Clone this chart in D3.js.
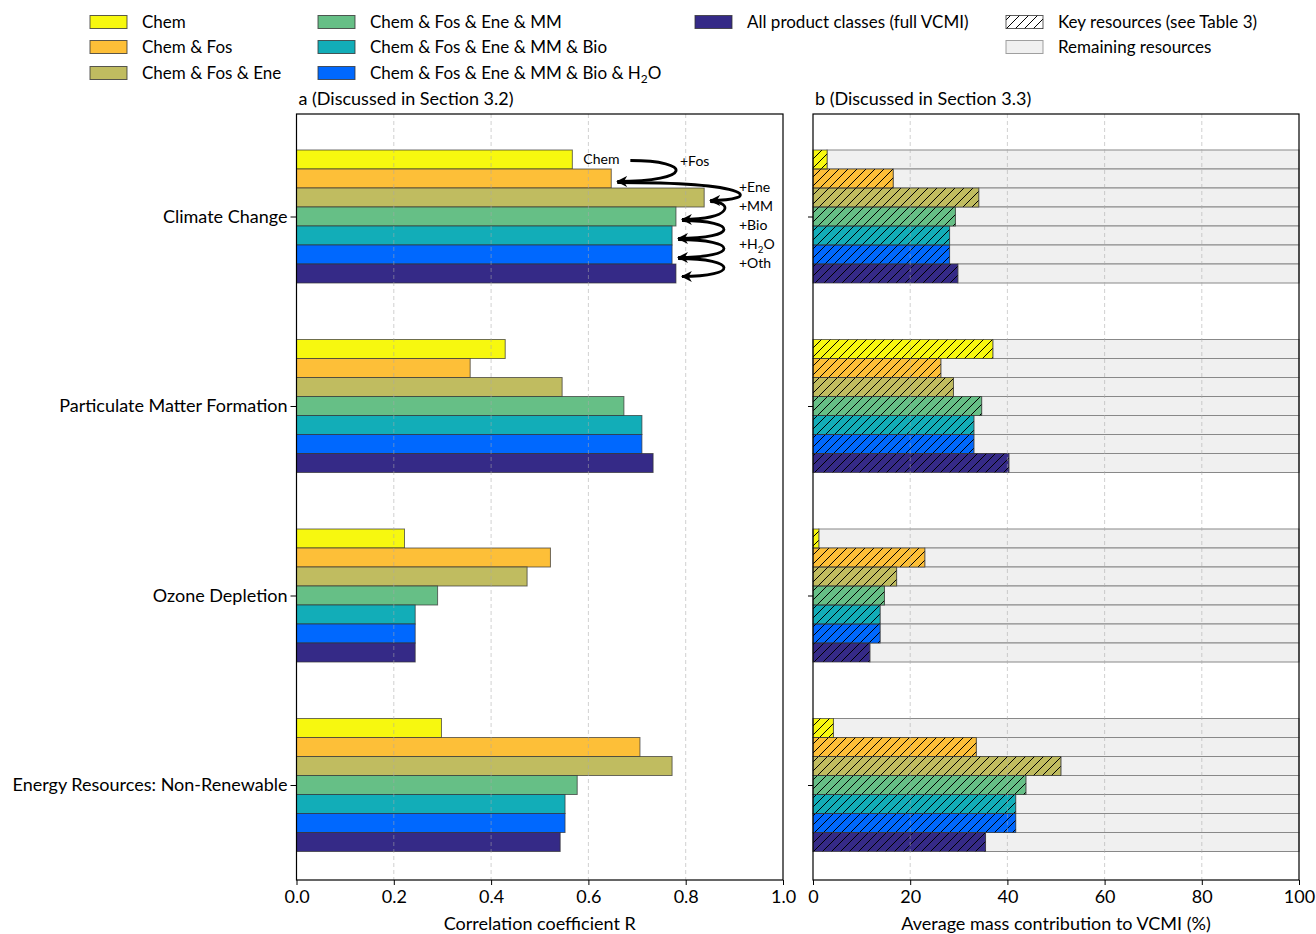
<!DOCTYPE html>
<html>
<head>
<meta charset="utf-8">
<script src="https://cdn.jsdelivr.net/npm/d3@7"></script>
<style>
  body { margin: 0; background: #fff; }
  text { font-family: Lato, "Open Sans", sans-serif; fill: #000; }
</style>
</head>
<body>
<div id="chart"></div>
<script>
const categories = ["Climate Change", "Particulate Matter Formation", "Ozone Depletion", "Energy Resources: Non-Renewable"];
const classes = ["Chem", "Chem & Fos", "Chem & Fos & Ene", "Chem & Fos & Ene & MM", "Chem & Fos & Ene & MM & Bio", "Chem & Fos & Ene & MM & Bio & H2O", "All product classes (full VCMI)"];
const colors = ["#f7f80f", "#fdbf38", "#c0bc60", "#66bf86", "#12adb8", "#0068fe", "#352a87"];

// correlation coefficient R, one array per impact category (classes in order)
const rClimate = [0.567, 0.647, 0.838, 0.780, 0.772, 0.772, 0.780];
const rPM      = [0.429, 0.357, 0.546, 0.673, 0.710, 0.710, 0.733];
const rOzone   = [0.222, 0.522, 0.474, 0.290, 0.244, 0.244, 0.244];
const rEnergy  = [0.298, 0.706, 0.772, 0.577, 0.552, 0.552, 0.542];

// average mass contribution of key resources (%)
const mClimate = [2.9, 16.5, 34.1, 29.3, 28.1, 28.1, 29.8];
const mPM      = [37.0, 26.3, 28.9, 34.7, 33.1, 33.1, 40.3];
const mOzone   = [1.2, 23.0, 17.2, 14.7, 13.8, 13.8, 11.7];
const mEnergy  = [4.2, 33.6, 51.0, 43.8, 41.7, 41.7, 35.5];

const stepLabels = ["+Fos", "+Ene", "+MM", "+Bio", "+H2O", "+Oth"];
const xTicksA = [0, 0.2, 0.4, 0.6, 0.8, 1.0];
const xTicksB = [0, 20, 40, 60, 80, 100];

const rByCat = [rClimate, rPM, rOzone, rEnergy];
const mByCat = [mClimate, mPM, mOzone, mEnergy];

const W = 1316, H = 934;
const plotTop = 114, plotBottom = 880;
const barH = 19;

const svg = d3.select("#chart").append("svg")
    .attr("width", W).attr("height", H);

const defs = svg.append("defs");
defs.append("pattern")
    .attr("id", "hatch")
    .attr("patternUnits", "userSpaceOnUse")
    .attr("width", 9).attr("height", 9)
    .append("path")
    .attr("d", "M0,9 L9,0 M-2,2 L2,-2 M7,11 L11,7")
    .attr("stroke", "#000").attr("stroke-width", 1);
defs.append("marker")
    .attr("id", "arrow")
    .attr("markerUnits", "userSpaceOnUse")
    .attr("viewBox", "0 0 10 10")
    .attr("refX", 9).attr("refY", 5)
    .attr("markerWidth", 11).attr("markerHeight", 11)
    .attr("orient", "auto")
    .append("path")
    .attr("d", "M0,0 L10,5 L0,10 L3,5 Z")
    .attr("fill", "#000");

const xA = d3.scaleLinear().domain([0, 1]).range([296.5, 783]);
const xB = d3.scaleLinear().domain([0, 100]).range([813, 1299]);
const y = d3.scalePoint().domain(categories).range([216.5, 785]);
const barTop = (c, j) => y(c) - 3.5 * barH + j * barH;

// helper: text with H2O subscript
function labelText(sel, s) {
    if (s.includes("H2O")) {
        const parts = s.split("H2O");
        sel.append("tspan").text(parts[0] + "H");
        sel.append("tspan").text("2").attr("font-size", "0.7em").attr("dy", 4);
        sel.append("tspan").text("O" + parts[1]).attr("dy", -4);
    } else {
        sel.text(s);
    }
}

// ---------- panel a ----------
const gA = svg.append("g");
categories.forEach((c, ci) => {
    gA.selectAll(null)
        .data(rByCat[ci])
        .join("rect")
        .attr("x", xA(0))
        .attr("y", (d, j) => barTop(c, j))
        .attr("width", d => xA(d) - xA(0))
        .attr("height", barH)
        .attr("fill", (d, j) => colors[j])
        .attr("stroke", "#333")
        .attr("stroke-opacity", 0.7)
        .attr("stroke-width", 1);
});

gA.selectAll(".grid")
    .data(xTicksA.slice(1, -1))
    .join("line")
    .attr("x1", d => xA(d)).attr("x2", d => xA(d))
    .attr("y1", plotTop).attr("y2", plotBottom)
    .attr("stroke", "#aaa").attr("stroke-opacity", 0.6)
    .attr("stroke-dasharray", "4,3").attr("stroke-width", 0.9);

gA.append("rect")
    .attr("x", xA(0)).attr("y", plotTop)
    .attr("width", xA(1) - xA(0)).attr("height", plotBottom - plotTop)
    .attr("fill", "none").attr("stroke", "#000").attr("stroke-width", 1.2);

gA.append("g")
    .attr("transform", `translate(0,${plotBottom})`)
    .call(d3.axisBottom(xA).tickValues(xTicksA).tickFormat(d3.format(".1f")).tickSize(5).tickPadding(5))
    .call(g => g.select(".domain").remove())
    .call(g => g.selectAll("text").attr("font-size", 18).attr("font-family", "Lato"));

gA.append("g")
    .attr("transform", `translate(${xA(0)},0)`)
    .call(d3.axisLeft(y).tickSize(6).tickPadding(3))
    .call(g => g.select(".domain").remove())
    .call(g => g.selectAll("text").attr("font-size", 18).attr("font-family", "Lato"));

gA.append("text")
    .attr("x", (xA(0) + xA(1)) / 2).attr("y", 930)
    .attr("text-anchor", "middle").attr("font-size", 18)
    .text("Correlation coefficient R");

gA.append("text")
    .attr("x", xA(0) + 2).attr("y", 105)
    .attr("font-size", 18)
    .text("a (Discussed in Section 3.2)");

// step annotations on climate change
const cc = categories[0];
const ccR = rByCat[0];
const mid = j => barTop(cc, j) + barH / 2;
gA.append("text")
    .attr("x", xA(ccR[0]) + 11).attr("y", mid(0) + 4)
    .attr("font-size", 14).text("Chem");

stepLabels.forEach((s, k) => {
    const i = k + 1;
    const x0 = i === 1 ? xA(ccR[0]) + 58 : xA(ccR[i - 1]) + 6;
    const y0 = i === 1 ? mid(0) + 1 : mid(i - 1) + 4;
    const x1 = xA(ccR[i]) + 6;
    const y1 = mid(i) + 3;
    const xMax = i === 1 ? 676 : (i === 2 ? 736 : 724);
    const T = (xMax - (x0 + x1) / 8) / 0.75;
    gA.append("path")
        .attr("d", `M${x0},${y0} C${T},${y0} ${T},${y1} ${x1},${y1}`)
        .attr("fill", "none").attr("stroke", "#000")
        .attr("stroke-width", 2.8)
        .attr("marker-end", "url(#arrow)");
    const t = gA.append("text")
        .attr("x", i === 1 ? 680 : 739)
        .attr("y", i === 1 ? mid(0) + 6 : barTop(cc, i) + 4)
        .attr("font-size", 14);
    labelText(t, s);
});

// ---------- panel b ----------
const gB = svg.append("g");
categories.forEach((c, ci) => {
    const vals = mByCat[ci];
    gB.selectAll(null)
        .data(vals)
        .join("rect")
        .attr("x", d => xB(d))
        .attr("y", (d, j) => barTop(c, j))
        .attr("width", d => xB(100) - xB(d))
        .attr("height", barH)
        .attr("fill", "#f0f0f0")
        .attr("stroke", "#888").attr("stroke-width", 1);
    gB.selectAll(null)
        .data(vals)
        .join("rect")
        .attr("x", xB(0))
        .attr("y", (d, j) => barTop(c, j))
        .attr("width", d => xB(d) - xB(0))
        .attr("height", barH)
        .attr("fill", (d, j) => colors[j]);
    gB.selectAll(null)
        .data(vals)
        .join("rect")
        .attr("x", xB(0))
        .attr("y", (d, j) => barTop(c, j))
        .attr("width", d => xB(d) - xB(0))
        .attr("height", barH)
        .attr("fill", "url(#hatch)")
        .attr("stroke", "#333").attr("stroke-opacity", 0.7).attr("stroke-width", 1);
});

gB.selectAll(".grid")
    .data(xTicksB.slice(1, -1))
    .join("line")
    .attr("x1", d => xB(d)).attr("x2", d => xB(d))
    .attr("y1", plotTop).attr("y2", plotBottom)
    .attr("stroke", "#aaa").attr("stroke-opacity", 0.6)
    .attr("stroke-dasharray", "4,3").attr("stroke-width", 0.9);

gB.append("rect")
    .attr("x", xB(0)).attr("y", plotTop)
    .attr("width", xB(100) - xB(0)).attr("height", plotBottom - plotTop)
    .attr("fill", "none").attr("stroke", "#000").attr("stroke-width", 1.2);

gB.append("g")
    .attr("transform", `translate(0,${plotBottom})`)
    .call(d3.axisBottom(xB).tickValues(xTicksB).tickSize(5).tickPadding(5))
    .call(g => g.select(".domain").remove())
    .call(g => g.selectAll("text").attr("font-size", 18).attr("font-family", "Lato"));

gB.append("g")
    .attr("transform", `translate(${xB(0)},0)`)
    .call(d3.axisLeft(y).tickSize(5).tickFormat(""))
    .call(g => g.select(".domain").remove());

gB.append("text")
    .attr("x", (xB(0) + xB(100)) / 2).attr("y", 930)
    .attr("text-anchor", "middle").attr("font-size", 18)
    .text("Average mass contribution to VCMI (%)");

gB.append("text")
    .attr("x", xB(0) + 2).attr("y", 105)
    .attr("font-size", 18)
    .text("b (Discussed in Section 3.3)");

// ---------- legend ----------
const legendItems = classes.map((c, j) => ({ label: c, fill: colors[j] }))
    .concat([{ label: "Key resources (see Table 3)", fill: "url(#hatch)", hatch: true },
             { label: "Remaining resources", fill: "#f0f0f0" }]);
const legPos = [[90, 22], [90, 47], [90, 73], [318, 22], [318, 47], [318, 73], [695, 22], [1006, 22], [1006, 47]];
const leg = svg.append("g");
legendItems.forEach((it, k) => {
    const [lx, ly] = legPos[k];
    if (it.hatch) {
        leg.append("rect").attr("x", lx).attr("y", ly - 6.5).attr("width", 37).attr("height", 13).attr("fill", "#fff");
    }
    leg.append("rect")
        .attr("x", lx).attr("y", ly - 6.5)
        .attr("width", 37).attr("height", 13)
        .attr("fill", it.fill)
        .attr("stroke", it.fill === "#f0f0f0" ? "#888" : "#333")
        .attr("stroke-opacity", 0.8).attr("stroke-width", 1);
    const t = leg.append("text")
        .attr("x", lx + 52).attr("y", ly + 6)
        .attr("font-size", 17);
    labelText(t, it.label);
});
</script>
</body>
</html>
